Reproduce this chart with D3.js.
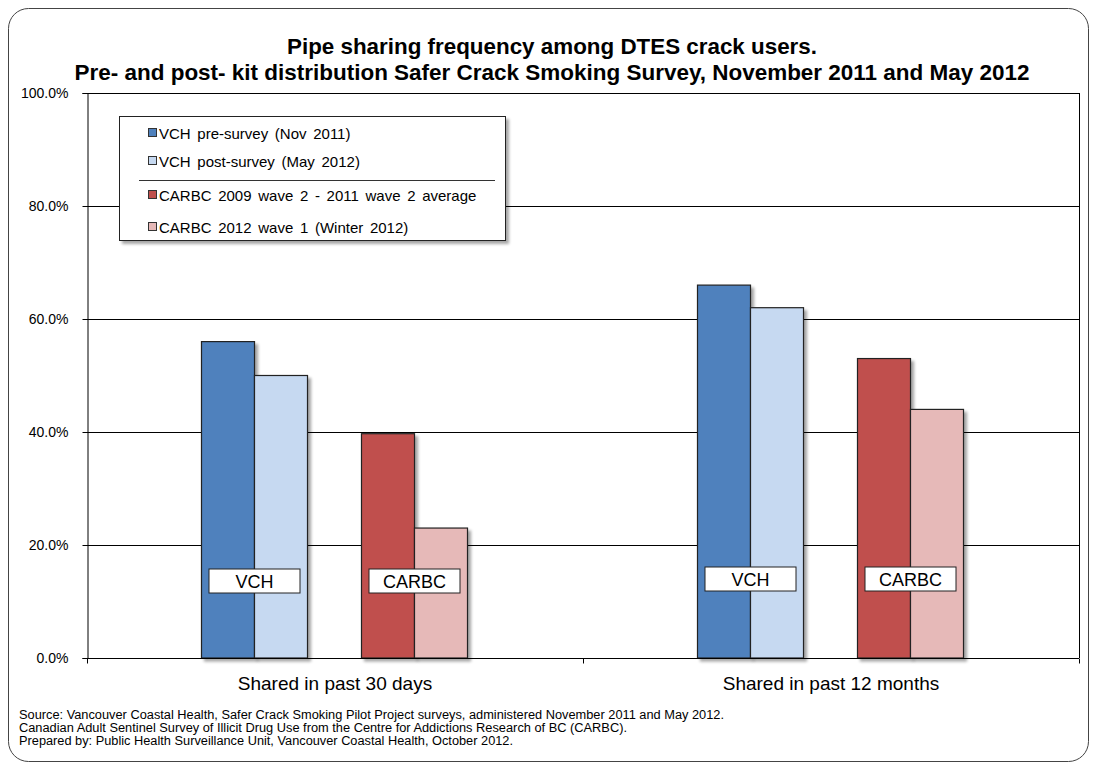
<!DOCTYPE html>
<html><head><meta charset="utf-8">
<script src="https://cdn.jsdelivr.net/npm/d3@7"></script>
<style>
body{margin:0;background:#fff;}
svg{display:block;}
</style></head><body>
<svg id="c" width="1096" height="768"></svg>
<script>
const categories = ["Shared in past 30 days", "Shared in past 12 months"];
const seriesNames = ["VCH pre-survey (Nov 2011)", "VCH post-survey (May 2012)", "CARBC 2009 wave 2 - 2011 wave 2 average", "CARBC 2012 wave 1 (Winter 2012)"];
const seriesColors = ["#4f81bd", "#c6d9f1", "#c0504d", "#e6b9b8"];
const vchPre = [56, 66];
const vchPost = [50, 62];
const carbcAvg = [39.7, 53];
const carbc2012 = [23, 44];
const yTicks = [0, 20, 40, 60, 80, 100];
const groupLabels = ["VCH", "CARBC"];
const titleLines = ["Pipe sharing frequency among DTES crack users.", "Pre- and post- kit distribution Safer Crack Smoking Survey, November 2011 and May 2012"];
const sourceLines = ["Source: Vancouver Coastal Health, Safer Crack Smoking Pilot Project surveys, administered November 2011 and May 2012.",
 "Canadian Adult Sentinel Survey of Illicit Drug Use from the Centre for Addictions Research of BC (CARBC).",
 "Prepared by: Public Health Surveillance Unit, Vancouver Coastal Health, October 2012."];

const series = [vchPre, vchPost, carbcAvg, carbc2012];
const svg = d3.select("#c");
const sans = "'Liberation Sans', Arial, sans-serif";

const defs = svg.append("defs");
const f = defs.append("filter").attr("id","sh").attr("x","-10%").attr("y","-10%").attr("width","130%").attr("height","130%");
f.append("feGaussianBlur").attr("in","SourceAlpha").attr("stdDeviation",1.5).attr("result","b");
f.append("feOffset").attr("in","b").attr("dx",2.5).attr("dy",2.5).attr("result","o");
f.append("feComponentTransfer").attr("in","o").attr("result","o2").append("feFuncA").attr("type","linear").attr("slope",0.35);
const m = f.append("feMerge"); m.append("feMergeNode").attr("in","o2"); m.append("feMergeNode").attr("in","SourceGraphic");

// outer border
svg.append("rect").attr("x",8.5).attr("y",8.5).attr("width",1080).attr("height",753).attr("rx",20).attr("ry",20)
  .attr("fill","#fff").attr("stroke","#444").attr("stroke-width",1);

const L = 87, R = 1079, T = 93, B = 658;
const y = d3.scaleLinear().domain([0,100]).range([B,T]);
const x0 = d3.scaleBand().domain(categories).range([L,R]).paddingInner(0).paddingOuter(0);

// title (condensed bold)
const titleWidths = [530, 955];
svg.append("g").selectAll("text").data(titleLines).join("text")
  .attr("x",552).attr("y",(d,i)=>54+i*26).attr("text-anchor","middle")
  .attr("textLength",(d,i)=>titleWidths[i]).attr("lengthAdjust","spacingAndGlyphs")
  .attr("font-family",sans).attr("font-weight","bold").attr("font-size",22).attr("fill","#000").text(d=>d);

// gridlines
svg.append("g").selectAll("line").data(yTicks.filter(d=>d>0)).join("line")
  .attr("x1",L).attr("x2",R).attr("y1",d=>Math.round(y(d))+0.5).attr("y2",d=>Math.round(y(d))+0.5)
  .attr("stroke","#000").attr("stroke-width",1);
svg.append("line").attr("x1",R+0.5).attr("x2",R+0.5).attr("y1",T).attr("y2",B).attr("stroke","#000");

// y axis
const yAxis = d3.axisLeft(y).tickValues(yTicks).tickSize(5).tickFormat(d=>d.toFixed(1)+"%");
const gy = svg.append("g").attr("transform",`translate(${L+0.5},0)`).call(yAxis);
gy.select(".domain").attr("stroke","#000");
gy.selectAll(".tick line").attr("stroke","#000");
gy.selectAll(".tick text").attr("font-family",sans).attr("font-size",14).attr("fill","#000").attr("x",-19);
gy.selectAll(".tick").attr("transform",d=>`translate(0,${Math.round(y(d))+0.5})`);

// bars
const barW = 53;
const subOffset = d3.scaleOrdinal().domain(d3.range(4)).range([114, 167, 274, 327]);
const gBars = svg.append("g");
categories.forEach((c,ci)=>{
  series.forEach((s,si)=>{
    gBars.append("rect")
      .attr("x", x0(c) + subOffset(si) + 0.5)
      .attr("y", y(s[ci]))
      .attr("width", barW)
      .attr("height", B - y(s[ci]))
      .attr("fill", seriesColors[si]).attr("stroke","#222").attr("stroke-width",1.2)
      .attr("filter","url(#sh)");
  });
});

// x axis
const gx = svg.append("g").attr("transform",`translate(0,${B+0.5})`);
gx.append("line").attr("x1",L).attr("x2",R).attr("stroke","#000");
[L, x0(categories[1]), R].forEach(v=>gx.append("line").attr("x1",v+0.5).attr("x2",v+0.5).attr("y1",0).attr("y2",5).attr("stroke","#000"));
gx.selectAll("text").data(categories).join("text")
  .attr("x",d=>x0(d)+x0.bandwidth()/2).attr("y",31).attr("text-anchor","middle")
  .attr("font-family",sans).attr("font-size",19).attr("fill","#000").text(d=>d);

// group labels
const labelY = [581, 579];
categories.forEach((c,ci)=>{
  groupLabels.forEach((g,gi)=>{
    const cx = x0(c) + subOffset(gi*2) + barW + 0.5;
    const w = 91, h = 24;
    svg.append("rect").attr("x",cx - w/2).attr("y",labelY[ci]-h/2).attr("width",w).attr("height",h)
      .attr("fill","#fff").attr("stroke","#222").attr("stroke-width",1);
    svg.append("text").attr("x",cx).attr("y",labelY[ci]+6.5).attr("text-anchor","middle")
      .attr("font-family",sans).attr("font-size",18).attr("fill","#000").text(g);
  });
});

// legend
const lg = svg.append("g");
lg.append("rect").attr("x",119.5).attr("y",116.5).attr("width",386).attr("height",124)
  .attr("fill","#fff").attr("stroke","#222").attr("stroke-width",1).attr("filter","url(#sh)");
const legY = [133, 161, 195, 227];
seriesNames.forEach((n,i)=>{
  lg.append("rect").attr("x",148.5).attr("y",legY[i]-4.5).attr("width",8).attr("height",8)
    .attr("fill",seriesColors[i]).attr("stroke","#333").attr("stroke-width",1);
  lg.append("text").attr("x",159).attr("y",legY[i]+5.5).attr("font-family",sans).attr("font-size",15)
    .attr("word-spacing",2.5).attr("fill","#000").text(n);
});
lg.append("line").attr("x1",139).attr("x2",495).attr("y1",180.5).attr("y2",180.5).attr("stroke","#333");

// source
const srcWidths = [705, 608, 494];
svg.append("g").selectAll("text").data(sourceLines).join("text")
  .attr("x",19).attr("y",(d,i)=>719+i*13)
  .attr("textLength",(d,i)=>srcWidths[i]).attr("lengthAdjust","spacingAndGlyphs")
  .attr("font-family",sans).attr("font-size",12).attr("fill","#000").text(d=>d);
</script>
</body></html>
